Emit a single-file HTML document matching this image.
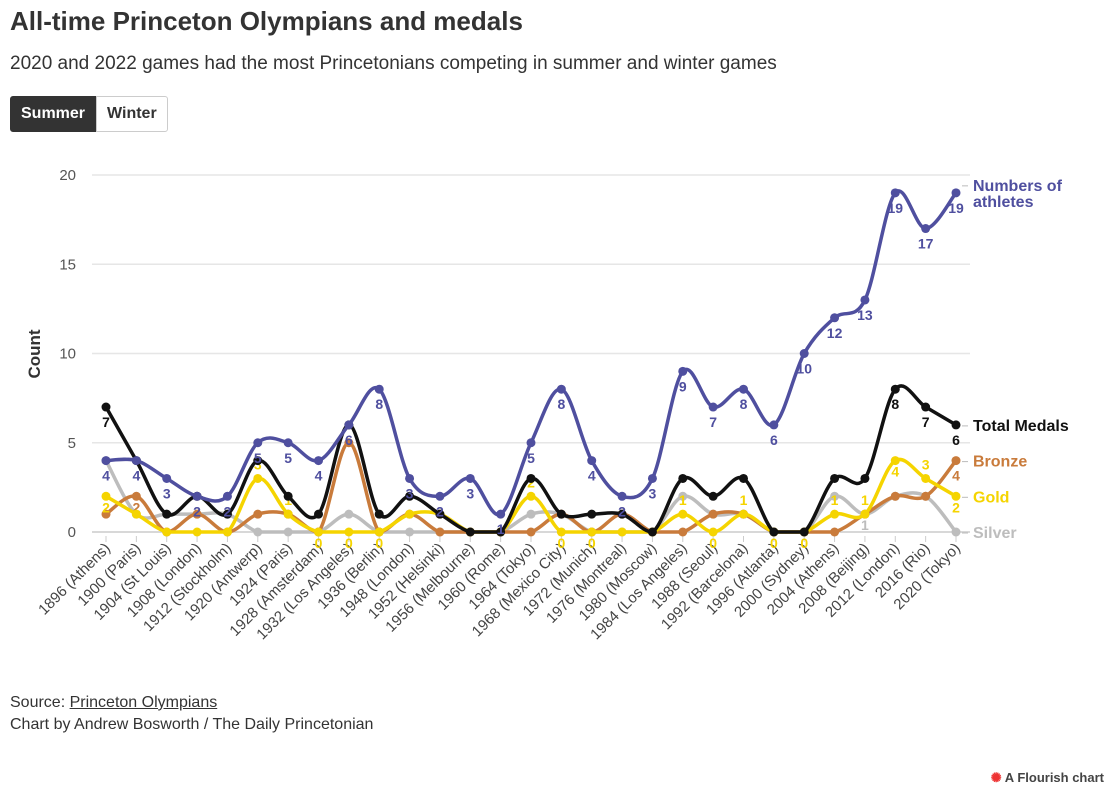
<!DOCTYPE html>
<html><head><meta charset="utf-8"><style>
body{margin:0;background:#fff;font-family:"Liberation Sans",sans-serif;width:1114px;height:796px;overflow:hidden;position:relative;color:#333}
h1{position:absolute;left:10px;top:6px;margin:0;font-size:26px;font-weight:bold;color:#333}
.sub{position:absolute;left:10px;top:53px;font-size:19px;color:#333}
.btns{position:absolute;left:10px;top:96px;display:flex}
.btn{height:34px;line-height:34px;padding:0 10px;font-size:16px;font-weight:bold;border:1px solid #ccc}
.on{background:#333;color:#fff;border-color:#333;border-radius:3px 0 0 3px}
.off{background:#fff;color:#333;border-radius:0 3px 3px 0}
.foot{position:absolute;left:10px;top:692px;font-size:16px;line-height:22px;color:#333}
.fl{position:absolute;right:10px;bottom:10px;font-size:13px;font-weight:bold;color:#444}
</style></head><body>
<h1>All-time Princeton Olympians and medals</h1>
<div class="sub">2020 and 2022 games had the most Princetonians competing in summer and winter games</div>
<div class="btns"><div class="btn on">Summer</div><div class="btn off">Winter</div></div>
<svg id="chart" width="1114" height="680" style="position:absolute;left:0;top:0"></svg>
<div class="foot">Source: <u>Princeton Olympians</u><br>Chart by Andrew Bosworth / The Daily Princetonian</div>
<div class="fl"><span style="color:#e33">✺</span> A Flourish chart</div>
<script>
const categories=["1896 (Athens)","1900 (Paris)","1904 (St Louis)","1908 (London)","1912 (Stockholm)","1920 (Antwerp)","1924 (Paris)","1928 (Amsterdam)","1932 (Los Angeles)","1936 (Berlin)","1948 (London)","1952 (Helsinki)","1956 (Melbourne)","1960 (Rome)","1964 (Tokyo)","1968 (Mexico City)","1972 (Munich)","1976 (Montreal)","1980 (Moscow)","1984 (Los Angeles)","1988 (Seoul)","1992 (Barcelona)","1996 (Atlanta)","2000 (Sydney)","2004 (Athens)","2008 (Beijing)","2012 (London)","2016 (Rio)","2020 (Tokyo)"];
const athletes=[4,4,3,2,2,5,5,4,6,8,3,2,3,1,5,8,4,2,3,9,7,8,6,10,12,13,19,17,19];
const totalMedals=[7,4,1,2,1,4,2,1,6,1,2,1,0,0,3,1,1,1,0,3,2,3,0,0,3,3,8,7,6];
const bronze=[1,2,0,1,0,1,1,0,5,0,1,0,0,0,0,1,0,1,0,0,1,1,0,0,0,1,2,2,4];
const gold=[2,1,0,0,0,3,1,0,0,0,1,1,0,0,2,0,0,0,0,1,0,1,0,0,1,1,4,3,2];
const silver=[4,1,1,1,1,0,0,0,1,0,0,0,0,0,1,1,0,0,0,2,1,1,0,0,2,1,2,2,0];
const yTicks=[0,5,10,15,20];
// which points show printed values
const labelIdx={silver:[25],bronze:[1,28],gold:[0,5,6,7,8,9,14,15,16,19,20,21,22,23,24,25,26,27,28],'total-medals':[0,26,27,28],athletes:categories.map((c,i)=>i)};
const NS="http://www.w3.org/2000/svg",svg=document.getElementById('chart');
const X0=106,X1=956,Y0=532,Y1=175;
const x=i=>X0+i*(X1-X0)/(categories.length-1);
const y=v=>Y0-v*(Y0-Y1)/20;
function mk(t,a,p){const e=document.createElementNS(NS,t);for(const k in a)e.setAttribute(k,a[k]);(p||svg).appendChild(e);return e;}
yTicks.forEach(t=>{
 const g=mk('line',{x1:92,x2:970,y1:y(t),y2:y(t),stroke:t?'#e6e6e6':'#ccc','stroke-width':1.5});
 
 
 const l=mk('text',{x:76,y:y(t)+5,'text-anchor':'end','font-size':15,fill:'#555'});l.textContent=t;
 
 
});
const yt=mk('text',{transform:'translate(40,354) rotate(-90)','text-anchor':'middle','font-size':17,'font-weight':'bold',fill:'#333'});yt.textContent='Count';


categories.forEach((c,i)=>{
 mk('line',{x1:x(i),x2:x(i),y1:536,y2:542,stroke:'#ccc'});
 const t=mk('text',{transform:`translate(${x(i)+5},${549}) rotate(-45)`,'text-anchor':'end','font-size':15,fill:'#444'});t.textContent=c;
 
 
});
function path(vals){const p=vals.map((v,i)=>[x(i),y(v)]);let d=`M${p[0][0]},${p[0][1]}`;
 const cl=v=>Math.min(v,Y0);
 for(let i=0;i<p.length-1;i++){const a=p[i-1]||p[i],b=p[i],c=p[i+1],e=p[i+2]||c;const k=1/6;
 d+=` C${b[0]+(c[0]-a[0])*k},${cl(b[1]+(c[1]-a[1])*k)} ${c[0]-(e[0]-b[0])*k},${cl(c[1]-(e[1]-b[1])*k)} ${c[0]},${c[1]}`;}return d;}
const series=[
 {name:'silver',v:silver,c:'#bdbdbd',lab:'Silver',dy:16},
 {name:'bronze',v:bronze,c:'#c97b3b',lab:'Bronze',dy:-10},
 {name:'gold',v:gold,c:'#f5d400',lab:'Gold',dy:-9},
 {name:'total-medals',v:totalMedals,c:'#111',lab:'Total Medals',dy:20},
 {name:'athletes',v:athletes,c:'#4f4f9f',lab:'Numbers of\nathletes',dy:20}];
series.forEach(s=>{
 const p=mk('path',{d:path(s.v),fill:'none',stroke:s.c,'stroke-width':3.5});
 
 
 s.v.forEach((v,i)=>{
  const d=mk('circle',{cx:x(i),cy:y(v),r:4.5,fill:s.c});
  
  
  if(labelIdx[s.name].includes(i)){
   let dy=s.dy; if(s.name==='gold'&&(v===0||i===0||i===28||i===26))dy=16; if(s.name==='bronze'&&i===28)dy=20; if(s.name==='bronze'&&i===1)dy=16;
   const t=mk('text',{x:x(i),y:y(v)+dy,'text-anchor':'middle','font-size':14,'font-weight':'bold',fill:s.c});t.textContent=v;
   
   }
 });
 const last=s.v[s.v.length-1];
 const ly=s.name==='athletes'?y(last)-2:y(last)+6;
 mk('line',{x1:962,x2:968,y1:ly-5,y2:ly-5,stroke:'#bbb'});
 const t=mk('text',{x:973,y:ly,'font-size':16,'font-weight':'bold',fill:s.c});
 s.lab.split('\n').forEach((ln,j)=>{const ts=mk('tspan',{x:973,dy:j?16:0},t);ts.textContent=ln;});
 
 
});
</script>
</body></html>
